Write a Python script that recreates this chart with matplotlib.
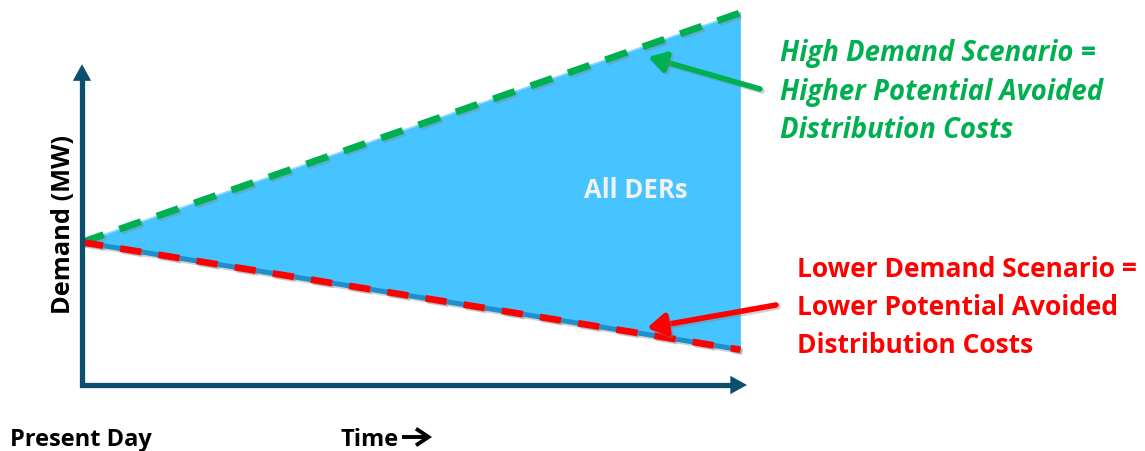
import numpy as np
import matplotlib
matplotlib.use("Agg")
import matplotlib.pyplot as plt
import matplotlib.patheffects as pe

# schematic data (time in arbitrary units, demand in arbitrary MW units)
time = [0.0, 9.9]
high_demand = [4.45, 11.6]
low_demand = [4.45, 1.1]

green_lines = ["High Demand Scenario =", "Higher Potential Avoided", "Distribution Costs"]
red_lines = ["Lower Demand Scenario =", "Lower Potential Avoided", "Distribution Costs"]

W, H = 1145, 451
FONT = ['Open Sans', 'DejaVu Sans']
axis_c = '#0C4E6E'
fill_c = '#45C4FF'
base_c = '#1E8FCB'
green = '#00B050'
red = '#FF0000'


def px(x, y):
    # pixel position (from top-left) -> figure fraction
    return (x / W, 1 - y / H)


fig = plt.figure(figsize=(W / 100, H / 100), dpi=100)
ax = fig.add_axes([82 / W, (H - 385) / H, 665 / W, 385 / H])
ax.set_xlim(0, 10)
ax.set_ylim(0, 12)
ax.axis('off')

shadow = [pe.SimpleLineShadow(offset=(1.5, -1.5), shadow_color='gray', alpha=0.35), pe.Normal()]

# filled area between scenarios
ax.fill_between(time, low_demand, high_demand, color=fill_c, lw=0, zorder=1)
ax.plot(time, high_demand, color='#7FD6FF', lw=1, zorder=2)
ax.plot(time, low_demand, color=base_c, lw=3.6, solid_capstyle='butt', zorder=2,
        path_effects=shadow)
ax.plot(time, high_demand, color=green, lw=5, dashes=(3.3, 2.4), dash_capstyle='butt',
        zorder=3, clip_on=False, path_effects=shadow)
ax.plot(time, low_demand, color=red, lw=4.8, dashes=(3.2, 2.6), dash_capstyle='butt',
        zorder=3, clip_on=False, path_effects=shadow)

# axes arrows
ax.plot([0, 0, 9.8], [9.6, 0, 0], color=axis_c, lw=3.8, solid_joinstyle='miter',
        solid_capstyle='projecting', clip_on=False, zorder=4)
head = dict(arrowstyle='-|>,head_length=0.6,head_width=0.33', mutation_scale=20,
            color=axis_c, lw=0, shrinkA=0, shrinkB=0)
ax.annotate('', xy=(0, 10), xytext=(0, 9.3), arrowprops=head, annotation_clip=False)
ax.annotate('', xy=(10, 0), xytext=(9.6, 0), arrowprops=head, annotation_clip=False)

# pointer arrows
ax.annotate('', xy=px(648, 57), xycoords='figure fraction',
            xytext=px(760, 89), textcoords='figure fraction',
            arrowprops=dict(arrowstyle='-|>,head_length=0.5,head_width=0.3', mutation_scale=20,
                            color=green, lw=4, shrinkA=0, shrinkB=0,
                            path_effects=shadow), annotation_clip=False)
ax.annotate('', xy=px(647, 328), xycoords='figure fraction',
            xytext=px(776, 305), textcoords='figure fraction',
            arrowprops=dict(arrowstyle='-|>,head_length=0.55,head_width=0.33', mutation_scale=20,
                            color=red, lw=4, shrinkA=0, shrinkB=0,
                            path_effects=shadow), annotation_clip=False)

# scenario labels
for i, line in enumerate(green_lines):
    fig.text(*px(780, 61 + 38.7 * i), line, color=green, fontsize=19.8, fontweight='bold',
             fontstyle='italic', family=FONT, va='baseline', ha='left')
for i, line in enumerate(red_lines):
    fig.text(*px(797, 277 + 38 * i), line, color=red, fontsize=19, fontweight='bold',
             family=FONT, va='baseline', ha='left')

fig.text(*px(636, 198), 'All DERs', color='#F2F2F2', fontsize=18.5, fontweight='bold',
         family=FONT, ha='center', va='baseline')
fig.text(*px(64, 225), 'Demand (MW)', color='black', fontsize=18.3, fontweight='bold',
         family=FONT, rotation=90, ha='center', va='center')
fig.text(*px(10, 446), 'Present Day', color='black', fontsize=17, fontweight='bold',
         family=FONT, ha='left', va='baseline')
fig.text(*px(340, 446), 'Time', color='black', fontsize=17, fontweight='bold',
         family=FONT, ha='left', va='baseline')
# bold "→" after Time
ax.annotate('', xy=px(432, 437), xycoords='figure fraction',
            xytext=px(402, 437), textcoords='figure fraction',
            arrowprops=dict(arrowstyle='->,head_length=0.45,head_width=0.3', mutation_scale=20,
                            color='black', lw=2.8, shrinkA=0, shrinkB=0,
                            joinstyle='miter', capstyle='butt'),
            annotation_clip=False)

fig.savefig('out.png', dpi=100)
